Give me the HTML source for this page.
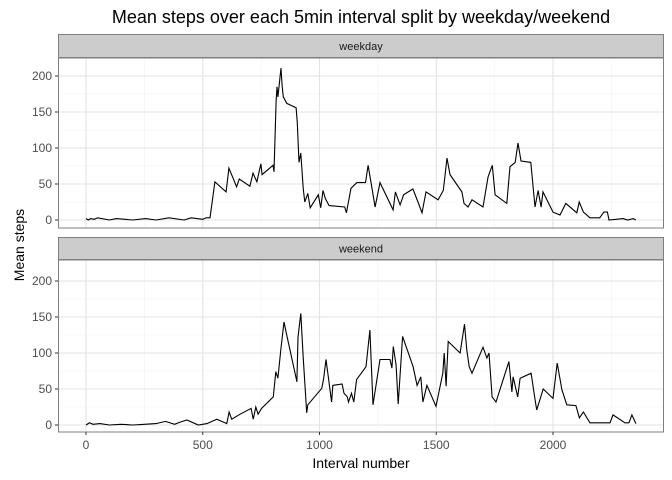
<!DOCTYPE html>
<html><head><meta charset="utf-8"><style>
body{margin:0;background:#fff;}
svg{display:block;font-family:"Liberation Sans",sans-serif;}
</style></head><body>
<svg id="chart" width="672" height="480">
<text x="361" y="23" text-anchor="middle" font-size="18" fill="#000">Mean steps over each 5min interval split by weekday/weekend</text>
<text x="361" y="468" text-anchor="middle" font-size="14" fill="#000">Interval number</text>
<text transform="translate(24,245) rotate(-90)" text-anchor="middle" font-size="14" fill="#000">Mean steps</text>
</svg>
<script>
const xTicks=[0,500,1000,1500,2000];
const yTicks=[0,50,100,150,200];
const panelNames=["weekday","weekend"];
const weekdayX=[0,10,20,35,50,100,130,200,255,300,355,420,450,500,515,531,552,600,612,630,645,656,702,715,732,749,754,801,805,814,818,822,835,840,845,860,900,905,912,920,930,937,950,960,995,1005,1015,1025,1041,1108,1115,1135,1160,1197,1208,1225,1238,1259,1315,1325,1345,1360,1400,1422,1439,1456,1508,1530,1546,1559,1610,1619,1636,1653,1700,1722,1740,1752,1802,1816,1838,1850,1863,1905,1923,1936,1949,1957,2000,2030,2055,2102,2112,2130,2158,2200,2218,2233,2240,2300,2320,2343,2355];
const weekdayY=[2,0,2,1,3,0,2,0,2,0,3,0,3,1,3,3,53,39,72,58,46,57,47,65,53,78,63,76,67,164,185,171,211,187,171,162,156,135,80,93,44,25,37,17,35,17,41,30,20,18,10,44,52,52,76,44,18,52,14,39,21,35,43,25,10,39,28,41,86,63,39,23,18,28,18,60,76,35,23,74,80,107,82,80,18,41,18,39,11,7,23,10,25,11,3,3,11,11,0,2,0,2,0];
const weekendX=[0,15,30,60,100,150,200,250,300,340,380,403,432,481,518,560,603,613,624,660,707,716,727,737,752,802,813,822,835,848,857,903,908,920,930,945,950,1010,1018,1028,1037,1052,1057,1097,1105,1119,1124,1137,1147,1159,1199,1216,1229,1259,1302,1310,1316,1328,1337,1356,1401,1418,1434,1443,1460,1499,1528,1534,1542,1551,1602,1621,1631,1641,1653,1700,1717,1726,1739,1756,1811,1824,1829,1849,1859,1906,1919,1930,1958,2000,2018,2038,2059,2098,2113,2130,2158,2244,2257,2308,2325,2338,2355];
const weekendY=[0,3,1,2,0,1,0,1,2,5,1,4,7,0,2,8,2,18,8,15,23,8,25,15,23,39,74,65,107,143,129,60,122,155,94,17,28,51,65,91,69,32,55,57,44,39,32,44,32,63,81,132,28,91,91,79,109,83,29,123,81,55,67,32,55,26,72,100,54,116,100,140,104,81,72,108,93,100,39,32,88,46,67,39,65,72,44,21,50,37,86,49,28,27,10,18,3,3,14,3,3,14,2];

const svg=document.getElementById('chart');
const NS='http://www.w3.org/2000/svg';
const PX0=58,PX1=664;
const xs=v=>86+v*0.2335;
const panels=[{strip:34,top:58,bot:228,zero:220,xd:weekdayX,yd:weekdayY},{strip:237,top:260,bot:432,zero:425,xd:weekendX,yd:weekendY}];
function mk(tag,attrs){const e=document.createElementNS(NS,tag);for(const k in attrs)e.setAttribute(k,attrs[k]);svg.appendChild(e);return e;}
panels.forEach((p,i)=>{
  const ys=v=>p.zero-v*0.72;
  const bg=mk('rect',{x:PX0,y:p.top,width:PX1-PX0,height:p.bot-p.top,fill:'#fff'});
  
  
  for(let v=250;v<2500;v+=500){const l=mk('line',{x1:xs(v),x2:xs(v),y1:p.top,y2:p.bot,stroke:'#f2f2f2','stroke-width':0.6});
    
    }
  for(let v=25;v<225;v+=50){const l=mk('line',{x1:PX0,x2:PX1,y1:ys(v),y2:ys(v),stroke:'#f2f2f2','stroke-width':0.6});
    
    }
  xTicks.forEach(v=>{const l=mk('line',{x1:xs(v),x2:xs(v),y1:p.top,y2:p.bot,stroke:'#e3e3e3','stroke-width':1.1});
    
    });
  yTicks.forEach(v=>{const l=mk('line',{x1:PX0,x2:PX1,y1:ys(v),y2:ys(v),stroke:'#e3e3e3','stroke-width':1.1});
    
    
    const tk=mk('line',{x1:PX0-3,x2:PX0,y1:ys(v),y2:ys(v),stroke:'#333'});
    
    
    const t=mk('text',{x:PX0-6,y:ys(v)+4,'text-anchor':'end','font-size':12,fill:'#4d4d4d'});
    t.textContent=v;
    
    });
  let d='';p.xd.forEach((x,j)=>{d+=(j?'L':'M')+xs(x).toFixed(1)+','+ys(p.yd[j]).toFixed(1);});
  const path=mk('path',{d:d,fill:'none',stroke:'#000','stroke-width':1.1});
  
  
  const bd=mk('rect',{x:PX0+0.5,y:p.top,width:PX1-PX0-1,height:p.bot-p.top,fill:'none',stroke:'#7f7f7f'});
  
  
  const st=mk('rect',{x:PX0+0.5,y:p.strip+0.5,width:PX1-PX0-1,height:p.top-p.strip-1,fill:'#cccccc',stroke:'#7f7f7f'});
  
  
  const sl=mk('text',{x:(PX0+PX1)/2,y:(p.strip+p.top)/2+4,'text-anchor':'middle','font-size':11,fill:'#1a1a1a'});
  sl.textContent=panelNames[i];
  
  
});
xTicks.forEach(v=>{
  const tk=mk('line',{x1:xs(v),x2:xs(v),y1:432,y2:435,stroke:'#333'});
  
  
  const t=mk('text',{x:xs(v),y:449,'text-anchor':'middle','font-size':12,fill:'#4d4d4d'});
  t.textContent=v;
  
  
});
</script>
</body></html>
